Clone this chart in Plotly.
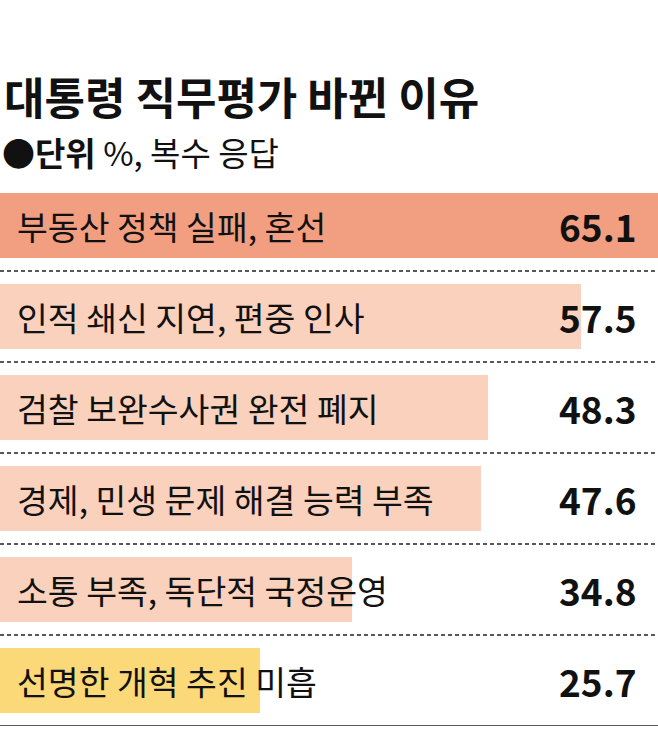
import plotly.graph_objects as go

# 데이터
reasons = [
    "부동산 정책 실패, 혼선",
    "인적 쇄신 지연, 편중 인사",
    "검찰 보완수사권 완전 폐지",
    "경제, 민생 문제 해결 능력 부족",
    "소통 부족, 독단적 국정운영",
    "선명한 개혁 추진 미흡",
]
values = [65.1, 57.5, 48.3, 47.6, 34.8, 25.7]
bar_colors = ["#F29E81", "#F9D1BC", "#F9D1BC", "#F9D1BC", "#F9D1BC", "#FCD978"]

FONT = "Noto Sans CJK KR"

fig = go.Figure()
fig.add_trace(go.Bar(
    x=values,
    y=list(range(len(reasons))),
    orientation="h",
    marker=dict(color=bar_colors, line=dict(width=0)),
    width=0.714,
    hoverinfo="skip",
))

annotations = [
    dict(x=0, y=1, xref="paper", yref="paper", yshift=84, xshift=2,
         xanchor="left", yanchor="middle", showarrow=False,
         text="<b>대통령 직무평가 바뀐 이유</b>",
         font=dict(family=FONT, size=44, color="#111")),
    dict(x=0, y=1, xref="paper", yref="paper", yshift=28, xshift=0,
         xanchor="left", yanchor="middle", showarrow=False,
         text="<b>●단위</b> %, 복수 응답",
         font=dict(family=FONT, size=33, color="#111")),
]
shapes = []
for i, (name, v) in enumerate(zip(reasons, values)):
    # 항목 이름
    annotations.append(dict(
        x=0, y=i, xref="x", yref="y", xanchor="left", yanchor="middle",
        xshift=15, showarrow=False, text=name,
        font=dict(family=FONT, size=33.5, color="#111")))
    # 값
    annotations.append(dict(
        x=1, y=i, xref="paper", yref="y", xanchor="right", yanchor="middle",
        xshift=-19, showarrow=False, text=f"<b>{v}</b>",
        font=dict(family=FONT, size=37, color="#111")))
    # 구분선
    if i < len(reasons) - 1:
        shapes.append(dict(type="line", xref="paper", yref="y",
                           x0=0, x1=1, y0=i + 0.5, y1=i + 0.5,
                           line=dict(color="#222", width=1.5, dash="4px,3px")))

shapes.append(dict(type="line", xref="paper", yref="y",
                   x0=0, x1=1, y0=len(reasons) - 0.5, y1=len(reasons) - 0.5,
                   line=dict(color="#222", width=1.5)))

fig.update_layout(
    width=658, height=755,
    margin=dict(l=0, r=0, t=180, b=29),
    paper_bgcolor="white", plot_bgcolor="white",
    showlegend=False,
    xaxis=dict(range=[0, 65.1], visible=False, fixedrange=True),
    yaxis=dict(range=[len(reasons) - 0.5, -0.5], visible=False, fixedrange=True),
    annotations=annotations,
    shapes=shapes,
    bargap=0,
)

fig.write_html("out.html", config={"displayModeBar": False},
               post_script="document.body.style.margin='0';document.body.style.overflow='hidden';")
